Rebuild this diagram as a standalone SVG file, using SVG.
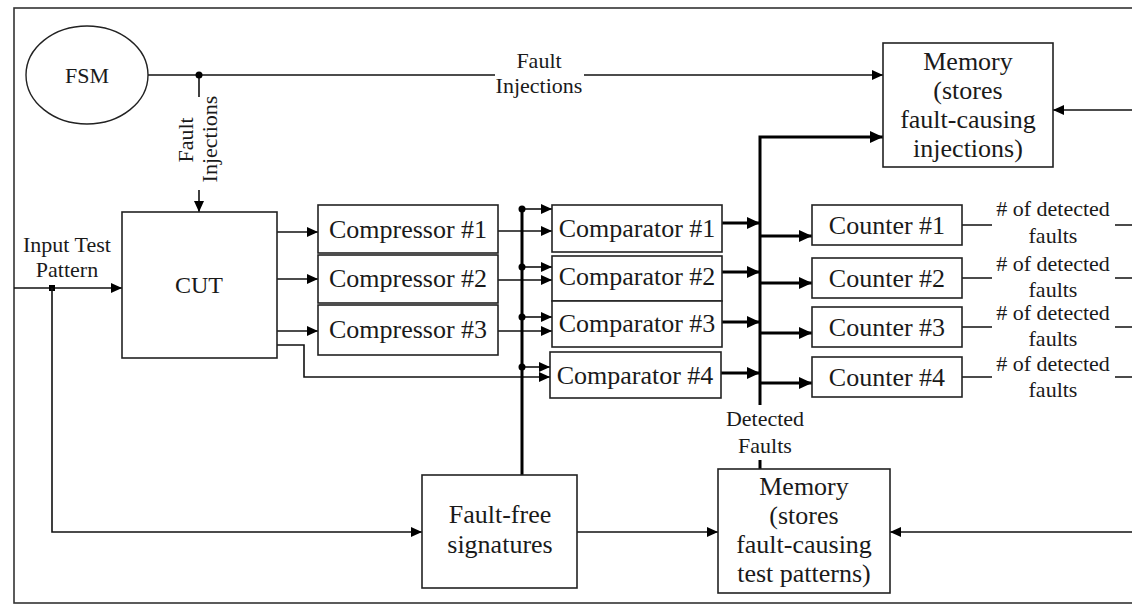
<svg xmlns="http://www.w3.org/2000/svg" width="1132" height="607" viewBox="0 0 1132 607" font-family="'Liberation Serif', 'DejaVu Serif', serif">
<style>
  text { font-family: 'Liberation Serif', 'DejaVu Serif', serif; fill: #1a1a1a; text-anchor: middle; }
  .box { fill: #fff; stroke: #222; stroke-width: 1.6; }
  .t25 { font-size: 26px; }
  .t24 { font-size: 24px; }
  .t22 { font-size: 22px; }
  .thin { fill: none; stroke: #111; stroke-width: 1.6; }
  .thick { fill: none; stroke: #000; stroke-width: 3; }
  .dot { fill: #000; }
</style>
<defs>
  <marker id="a" markerUnits="userSpaceOnUse" markerWidth="12" markerHeight="10" refX="11" refY="5" orient="auto">
    <path d="M0,0 L11,5 L0,10 z" fill="#000"/>
  </marker>
  <marker id="ab" markerUnits="userSpaceOnUse" markerWidth="14" markerHeight="12" refX="13" refY="6" orient="auto">
    <path d="M0,0 L13,6 L0,12 z" fill="#000"/>
  </marker>
</defs>
<rect x="14" y="8" width="1130" height="595" fill="#fff" stroke="#333" stroke-width="1.6"/>

<g id="connectors">
  <path class="thin" d="M148,75 H495"/>
  <path class="thin" d="M584,75 H883" marker-end="url(#a)"/>
  <text class="t22" x="539" y="68">Fault</text>
  <text class="t22" x="539" y="93">Injections</text>
  <path class="thin" d="M199,75 V97"/>
  <path class="thin" d="M199,190 V212" marker-end="url(#a)"/>
  <text class="t22" transform="translate(193,140) rotate(-90)">Fault</text>
  <text class="t22" transform="translate(217,139) rotate(-90)">Injections</text>
  <circle class="dot" cx="199" cy="75" r="3.5"/>
  <path class="thin" d="M14,288 H122" marker-end="url(#a)"/>
  <text class="t22" x="67" y="252">Input Test</text>
  <text class="t22" x="67" y="277">Pattern</text>
  <rect class="dot" x="49" y="285" width="6" height="6"/>
  <path class="thin" d="M52,288 V532 H422" marker-end="url(#a)"/>
  <path class="thin" d="M277,232 H318" marker-end="url(#a)"/>
  <path class="thin" d="M277,279 H318" marker-end="url(#a)"/>
  <path class="thin" d="M277,331 H318" marker-end="url(#a)"/>
  <path class="thin" d="M277,345 H304 V377 H550" marker-end="url(#a)"/>
  <path class="thin" d="M498,231 H552" marker-end="url(#a)"/>
  <path class="thin" d="M498,280 H552" marker-end="url(#a)"/>
  <path class="thin" d="M498,331 H552" marker-end="url(#a)"/>
  <path class="thick" d="M522,475 V209"/>
  <path class="thin" d="M522,209 H552" marker-end="url(#a)"/>
  <path class="thin" d="M522,267 H552" marker-end="url(#a)"/>
  <path class="thin" d="M522,317 H552" marker-end="url(#a)"/>
  <path class="thin" d="M522,367 H550" marker-end="url(#a)"/>
  <circle class="dot" cx="522" cy="209" r="3.5"/>
  <circle class="dot" cx="522" cy="267" r="3.5"/>
  <circle class="dot" cx="522" cy="317" r="3.5"/>
  <circle class="dot" cx="522" cy="367" r="3.5"/>
  <path class="thick" d="M722,223 H760" marker-end="url(#ab)"/>
  <path class="thick" d="M722,272 H760" marker-end="url(#ab)"/>
  <path class="thick" d="M722,322 H760" marker-end="url(#ab)"/>
  <path class="thick" d="M721,373 H760" marker-end="url(#ab)"/>
  <path class="thick" d="M760,405 V137 H883" marker-end="url(#ab)"/>
  <path class="thick" d="M760,460 V469"/>
  <text class="t22" x="765" y="426">Detected</text>
  <text class="t22" x="765" y="453">Faults</text>
  <path class="thick" d="M760,236 H812" marker-end="url(#ab)"/>
  <path class="thick" d="M760,283 H812" marker-end="url(#ab)"/>
  <path class="thick" d="M760,333 H812" marker-end="url(#ab)"/>
  <path class="thick" d="M760,383 H812" marker-end="url(#ab)"/>
  <path class="thin" d="M962,225 H992 M1115,225 H1132"/>
  <text class="t22" x="1053" y="216"># of detected</text>
  <text class="t22" x="1053" y="243">faults</text>
  <path class="thin" d="M962,278 H992 M1115,278 H1132"/>
  <text class="t22" x="1053" y="271"># of detected</text>
  <text class="t22" x="1053" y="297">faults</text>
  <path class="thin" d="M962,327 H992 M1115,327 H1132"/>
  <text class="t22" x="1053" y="320"># of detected</text>
  <text class="t22" x="1053" y="346">faults</text>
  <path class="thin" d="M962,377 H992 M1115,377 H1132"/>
  <text class="t22" x="1053" y="371"># of detected</text>
  <text class="t22" x="1053" y="397">faults</text>
  <path class="thin" d="M1132,110 H1053" marker-end="url(#a)"/>
  <path class="thin" d="M1132,532 H890" marker-end="url(#a)"/>
  <path class="thin" d="M577,532 H718" marker-end="url(#a)"/>
</g>

<g id="fsm">
  <ellipse cx="87" cy="75" rx="61" ry="49" fill="#fff" stroke="#222" stroke-width="1.4"/>
  <text class="t22" x="87" y="83">FSM</text>
</g>
<g id="cut">
  <rect class="box" x="122" y="212" width="155" height="146"/>
  <text class="t24" x="199" y="293">CUT</text>
</g>
<g id="compressor1">
  <rect class="box" x="318" y="205" width="180" height="48"/>
  <text class="t25" x="408" y="238">Compressor #1</text>
</g>
<g id="compressor2">
  <rect class="box" x="318" y="255" width="180" height="48"/>
  <text class="t25" x="408" y="287">Compressor #2</text>
</g>
<g id="compressor3">
  <rect class="box" x="318" y="305" width="180" height="50"/>
  <text class="t25" x="408" y="338">Compressor #3</text>
</g>
<g id="comparator1">
  <rect class="box" x="552" y="205" width="170" height="47"/>
  <text class="t25" x="637" y="237">Comparator #1</text>
</g>
<g id="comparator2">
  <rect class="box" x="552" y="256" width="170" height="45"/>
  <text class="t25" x="637" y="285">Comparator #2</text>
</g>
<g id="comparator3">
  <rect class="box" x="552" y="301" width="170" height="46"/>
  <text class="t25" x="637" y="332">Comparator #3</text>
</g>
<g id="comparator4">
  <rect class="box" x="550" y="352" width="171" height="46"/>
  <text class="t25" x="635" y="384">Comparator #4</text>
</g>
<g id="counter1">
  <rect class="box" x="812" y="205" width="150" height="40"/>
  <text class="t25" x="887" y="234">Counter #1</text>
</g>
<g id="counter2">
  <rect class="box" x="812" y="258" width="150" height="40"/>
  <text class="t25" x="887" y="287">Counter #2</text>
</g>
<g id="counter3">
  <rect class="box" x="812" y="307" width="150" height="40"/>
  <text class="t25" x="887" y="336">Counter #3</text>
</g>
<g id="counter4">
  <rect class="box" x="812" y="357" width="150" height="40"/>
  <text class="t25" x="887" y="386">Counter #4</text>
</g>
<g id="memory-injections">
  <rect class="box" x="883" y="43" width="170" height="124"/>
  <text class="t25" x="968" y="70">Memory</text>
  <text class="t25" x="968" y="99">(stores</text>
  <text class="t25" x="968" y="128">fault-causing</text>
  <text class="t25" x="968" y="157">injections)</text>
</g>
<g id="fault-free">
  <rect class="box" x="422" y="475" width="155" height="113"/>
  <text class="t25" x="500" y="523">Fault-free</text>
  <text class="t25" x="500" y="553">signatures</text>
</g>
<g id="memory-patterns">
  <rect class="box" x="718" y="469" width="172" height="124"/>
  <text class="t25" x="804" y="495">Memory</text>
  <text class="t25" x="804" y="524">(stores</text>
  <text class="t25" x="804" y="553">fault-causing</text>
  <text class="t25" x="804" y="582">test patterns)</text>
</g>
</svg>
